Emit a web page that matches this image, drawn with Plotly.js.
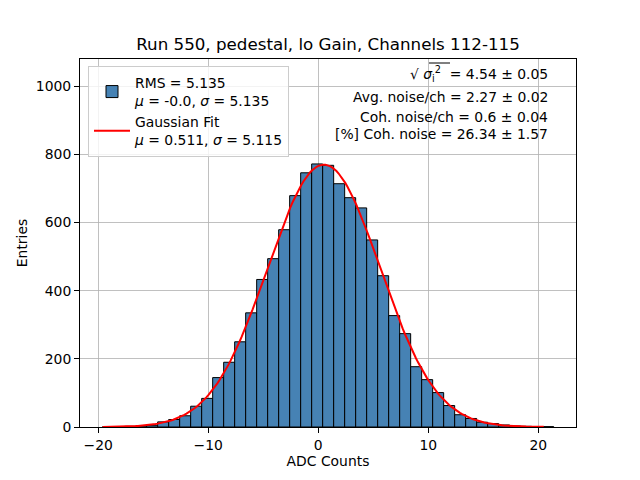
<!DOCTYPE html>
<html>
<head>
<meta charset="utf-8">
<script src="https://cdn.plot.ly/plotly-3.0.1.min.js"></script>
<style>html,body{margin:0;padding:0;background:#fff;} #chart{width:640px;height:480px;}</style>
</head>
<body>
<div id="chart"></div>
<script>
// Histogram bin centers (bin width 1, edges from -19.6 to 21.4)
const binCenters = [-19.1,-18.1,-17.1,-16.1,-15.1,-14.1,-13.1,-12.1,-11.1,-10.1,-9.1,-8.1,-7.1,-6.1,-5.1,-4.1,-3.1,-2.1,-1.1,-0.1,0.9,1.9,2.9,3.9,4.9,5.9,6.9,7.9,8.9,9.9,10.9,11.9,12.9,13.9,14.9,15.9,16.9,17.9,18.9,19.9,20.9];
const counts = [1,1,2,3,5,15,22,33,61,84,145,190,250,335,433,494,579,679,746,772,768,714,673,643,549,444,327,274,177,139,101,63,36,25,14,10,6,3,2,1,1];

// Gaussian fit parameters (from legend) and amplitude
const fitMu = 0.511;
const fitSigma = 5.115;
const fitAmp = 770;
const fitXStart = -19.6, fitXEnd = 20.5, fitSteps = 200;

const xTicks = [-20, -10, 0, 10, 20];
const yTicks = [0, 200, 400, 600, 800, 1000];

const statLines = [
  "√ <i>σ</i><sub>i</sub><sup>2</sup>  = 4.54 ± 0.05",
  "Avg. noise/ch = 2.27 ± 0.02",
  "Coh. noise/ch = 0.6 ± 0.04",
  "[%] Coh. noise = 26.34 ± 1.57"
];
const statY = [74, 97, 117, 134];

const fitX = [], fitY = [];
for (let i = 0; i <= fitSteps; i++) {
  const x = fitXStart + (fitXEnd - fitXStart) * i / fitSteps;
  fitX.push(x);
  fitY.push(fitAmp * Math.exp(-Math.pow(x - fitMu, 2) / (2 * fitSigma * fitSigma)));
}

const F = "DejaVu Sans, sans-serif";
const plotL = 80, plotR = 576, plotW = plotR - plotL;
const plotTop = 59, plotBottom = 427, plotH = plotBottom - plotTop;

const traces = [
  {
    type: 'bar', x: binCenters, y: counts, width: 1,
    marker: {color: '#4682b4', line: {color: '#000', width: 1}},
    name: 'RMS = 5.135<br><i>μ</i> = -0.0, <i>σ</i> = 5.135',
    hoverinfo: 'skip'
  },
  {
    type: 'scatter', mode: 'lines', x: fitX, y: fitY,
    line: {color: 'red', width: 2},
    name: 'Gaussian Fit<br><i>μ</i> = 0.511, <i>σ</i> = 5.115',
    hoverinfo: 'skip'
  }
];

const annotations = statLines.map((t, i) => ({
  text: t, xref: 'paper', yref: 'paper',
  x: (550 - plotL) / plotW, y: (plotBottom - statY[i]) / plotH,
  xanchor: 'right', yanchor: 'middle', showarrow: false,
  font: {family: F, size: 13.9, color: '#000'}
}));

// vinculum over the sqrt argument
const shapes = [{
  type: 'line', xref: 'paper', yref: 'paper',
  x0: (429 - plotL) / plotW, x1: (450 - plotL) / plotW,
  y0: (plotBottom - 63) / plotH, y1: (plotBottom - 63) / plotH,
  line: {color: '#000', width: 1}
}];

const layout = {
  width: 640, height: 480,
  margin: {l: plotL, r: 640 - plotR, t: plotTop, b: 480 - plotBottom, pad: 0},
  paper_bgcolor: '#fff', plot_bgcolor: '#fff',
  font: {family: F, size: 13.9, color: '#000'},
  title: {text: 'Run 550, pedestal, lo Gain, Channels 112-115', font: {family: F, size: 16.7, color: '#000'},
          x: 0.5, xref: 'paper', xanchor: 'center', y: 1 - 44 / 480, yref: 'container', yanchor: 'middle'},
  bargap: 0,
  showlegend: true,
  legend: {x: (88 - plotL) / plotW, y: (plotBottom - 66) / plotH, xanchor: 'left', yanchor: 'top',
           bgcolor: 'rgba(255,255,255,0.8)', bordercolor: '#cccccc', borderwidth: 1,
           font: {family: F, size: 13.9, color: '#000'}, tracegroupgap: 0, itemwidth: 36},
  xaxis: {range: [-21.66, 23.43], tickvals: xTicks, ticktext: xTicks.map(v => v < 0 ? '\u2212' + Math.abs(v) : String(v)),
          showgrid: true, gridcolor: '#b0b0b0', gridwidth: 0.8, zeroline: false,
          showline: true, linecolor: '#000', linewidth: 1, mirror: true,
          ticks: 'outside', ticklen: 5, tickcolor: '#000', layer: 'above traces',
          title: {text: 'ADC Counts', font: {family: F, size: 13.9, color: '#000'}, standoff: 4},
          tickfont: {family: F, size: 13.9, color: '#000'}},
  yaxis: {range: [0, 1080], tickvals: yTicks,
          showgrid: true, gridcolor: '#b0b0b0', gridwidth: 0.8, zeroline: false,
          showline: true, linecolor: '#000', linewidth: 1, mirror: true,
          ticks: 'outside', ticklen: 5, tickcolor: '#000', layer: 'above traces',
          title: {text: 'Entries', font: {family: F, size: 13.9, color: '#000'}, standoff: 4},
          tickfont: {family: F, size: 13.9, color: '#000'}},
  annotations: annotations,
  shapes: shapes
};

Plotly.newPlot('chart', traces, layout, {displayModeBar: false, staticPlot: true});
</script>
</body>
</html>
